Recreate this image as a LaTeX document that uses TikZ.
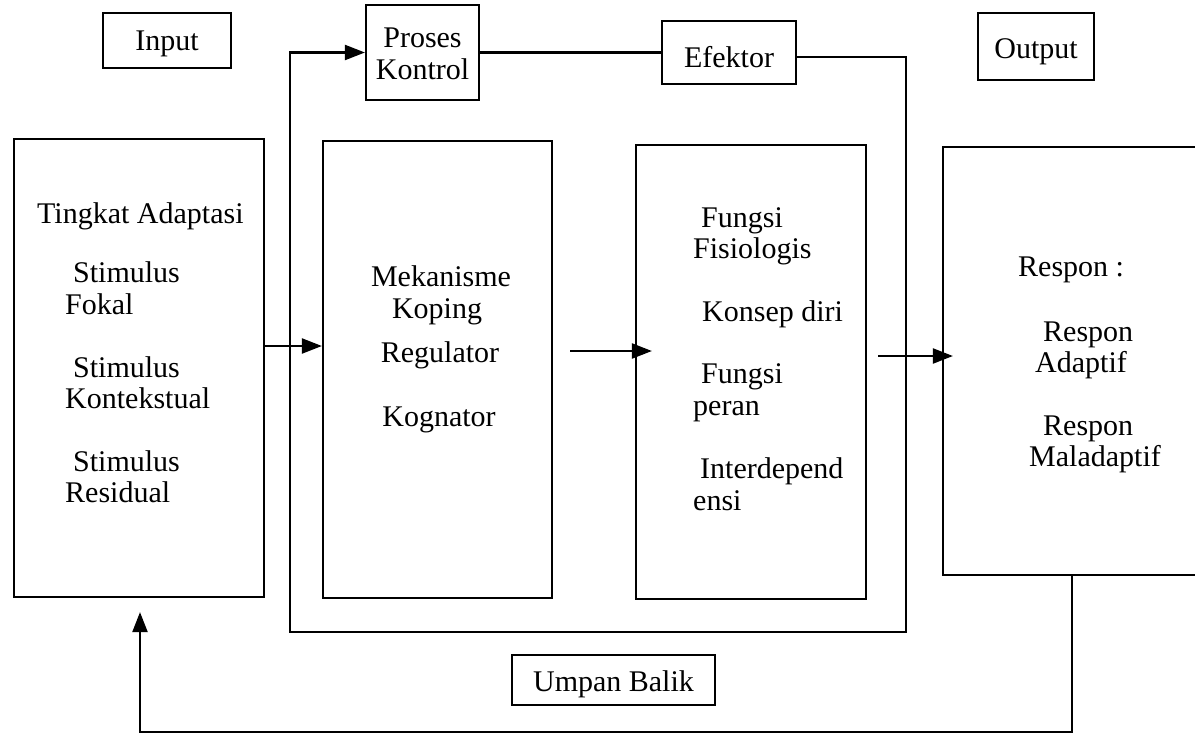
\documentclass[tikz,border=0pt]{standalone}
\usepackage{fontspec}
\setmainfont{Liberation Serif}
\usetikzlibrary{arrows.meta}
\tikzset{
  box/.style={draw, line width=2.2pt, inner sep=0pt, rectangle},
  txt/.style={anchor=base west, inner sep=0pt, font=\fontsize{30}{33}\selectfont},
  ctxt/.style={anchor=base, inner sep=0pt, font=\fontsize{30}{33}\selectfont},
  conn/.style={line width=2.2pt},
  arr/.style={line width=2.2pt, -{Triangle[length=20pt,width=15pt]}}
}
\begin{document}
\begin{tikzpicture}[x=1pt,y=-1pt]
\useasboundingbox (0,0) rectangle (1195,734);
% top boxes
\node[box, minimum width=128pt, minimum height=55pt] (inp) at (167,40.5) {};
\node[ctxt] (inpt) at (167,50) {Input};
\node[box, minimum width=113pt, minimum height=95pt] (pk) at (422.5,52.5) {};
\node[ctxt] (pkt1) at (422.5,47) {Proses};
\node[ctxt] (pkt2) at (422.5,79) {Kontrol};
\node[box, minimum width=134pt, minimum height=63pt] (ef) at (729,52.5) {};
\node[ctxt] (eft) at (729,67) {Efektor};
\node[box, minimum width=116pt, minimum height=67pt] (out) at (1036,46.5) {};
\node[ctxt] (outt) at (1036,58) {Output};
% main boxes
\node[box, minimum width=250pt, minimum height=458pt] (lb) at (139,368) {};
\node[txt] (lb1) at (37,223) {Tingkat Adaptasi};
\node[txt] (lb2) at (73,282) {Stimulus};
\node[txt] (lb3) at (65,314) {Fokal};
\node[txt] (lb4) at (73,377) {Stimulus};
\node[txt] (lb5) at (65,408) {Kontekstual};
\node[txt] (lb6) at (73,471) {Stimulus};
\node[txt] (lb7) at (65,502) {Residual};
\node[box, minimum width=229pt, minimum height=457pt] (mk) at (437.5,369.5) {};
\node[ctxt] (mk1) at (441,286) {Mekanisme};
\node[ctxt] (mk2) at (437,318) {Koping};
\node[ctxt] (mk3) at (440,362) {Regulator};
\node[ctxt] (mk4) at (439,426) {Kognator};
\node[box, minimum width=230pt, minimum height=454pt] (fs) at (751,372) {};
\node[txt] (fs1) at (701,227) {Fungsi};
\node[txt] (fs2) at (693,258) {Fisiologis};
\node[txt] (fs3) at (702,321) {Konsep diri};
\node[txt] (fs4) at (701,383) {Fungsi};
\node[txt] (fs5) at (693,415) {peran};
\node[txt] (fs6) at (700,478) {Interdepend};
\node[txt] (fs7) at (693,510) {ensi};
\node[box, minimum width=267pt, minimum height=428pt] (rs) at (1076.5,361) {};
\node[txt] (rs1) at (1018,276) {Respon :};
\node[txt] (rs2) at (1043,341) {Respon};
\node[txt] (rs3) at (1035,372) {Adaptif};
\node[txt] (rs4) at (1043,435) {Respon};
\node[txt] (rs5) at (1029,466) {Maladaptif};
\node[box, minimum width=203pt, minimum height=50pt] (ub) at (613.5,680) {};
\node[ctxt] (ubt) at (613.5,691) {Umpan Balik};
% coordinates
\coordinate (loopR) at (906,632);
\coordinate (loopL) at (290,632);
\coordinate (fbR) at (1072,732);
\coordinate (fbL) at (140,732);
% connectors
\draw[conn] (pk.east) -- (ef.west);
\draw[arr] ([yshift=-4.5pt]ef.east) -| (loopR) -- (loopL) |- (pk.west);
\draw[arr] ([yshift=22pt]lb.east) -- ([yshift=22pt]lb.east -| mk.west);
\draw[arr] ([shift={(17pt,18.5pt)}]mk.east) -- ([shift={(17pt,18.5pt)}]mk.east -| fs.west);
\draw[arr] ([shift={(11pt,16pt)}]fs.east) -- ([shift={(11pt,16pt)}]fs.east -| rs.west);
\draw[arr] (rs.south -| fbR) -- (fbR) -- (fbL) -- ([yshift=-14pt]fbL |- lb.south);
\end{tikzpicture}
\end{document}
